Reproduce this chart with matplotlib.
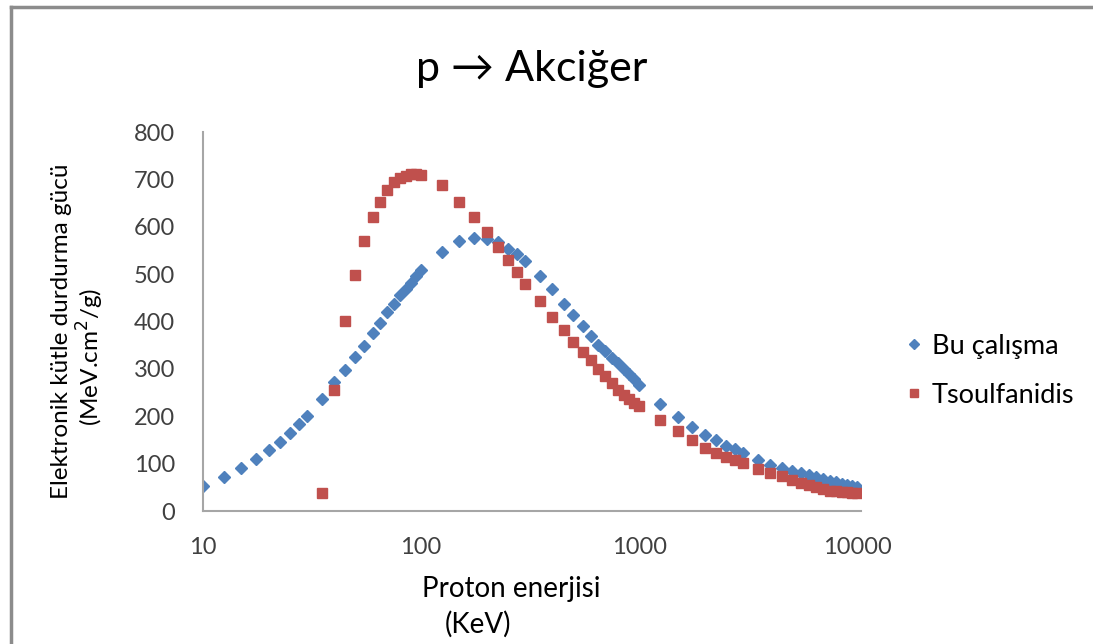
import numpy as np
import matplotlib
matplotlib.use('Agg')
import matplotlib.pyplot as plt
from matplotlib.lines import Line2D

plt.rcParams['font.family'] = ['Lato', 'DejaVu Sans']

# energy (keV) and stopping power (MeV.cm2/g)
energy_bu = [10, 12.5, 15, 17.5, 20, 22.5, 25, 27.5, 30, 35, 40, 45, 50, 55, 60, 65, 70, 75,
	80, 85, 90, 95, 100, 125, 150, 175, 200, 225, 250, 275, 300, 350, 400, 450, 500, 550,
	600, 650, 700, 750, 800, 850, 900, 950, 1000, 1250, 1500, 1750, 2000, 2250, 2500, 2750,
	3000, 3500, 4000, 4500, 5000, 5500, 6000, 6500, 7000, 7500, 8000, 8500, 9000, 9500, 10000]
sp_bu = [53, 71, 90, 109, 129, 146, 164, 184, 201, 236, 272, 298, 325, 349, 376, 397, 420, 437,
	455, 468, 482, 496, 509, 547, 570, 577, 574, 568, 554, 542, 528, 496, 468, 438, 414, 390,
	370, 351, 337, 324, 312, 300, 289, 278, 267, 226, 198, 177, 161, 149, 138, 131,
	123, 108, 98, 91, 85, 80, 75, 71, 67, 64, 61, 58, 55, 52, 50]

energy_ts = [35, 40, 45, 50, 55, 60, 65, 70, 75, 80, 85, 90, 95, 100, 125, 150, 175, 200, 225,
	250, 275, 300, 350, 400, 450, 500, 550, 600, 650, 700, 750, 800, 850, 900, 950, 1000,
	1250, 1500, 1750, 2000, 2250, 2500, 2750, 3000, 3500, 4000, 4500, 5000, 5500, 6000,
	6500, 7000, 7500, 8000, 8500, 9000, 9500, 10000]
sp_ts = [37, 256, 401, 499, 570, 620, 653, 678, 694, 702, 708, 711, 711, 710, 688, 653, 621, 588, 557,
	530, 504, 480, 443, 410, 383, 356, 335, 318, 300, 284, 270, 256, 245, 237, 229, 222,
	193, 168, 149, 134, 123, 115, 108, 101, 88, 80, 73, 66, 60, 55,
	50, 46, 43, 42, 41, 40, 39, 39]

x_ticks = [10, 100, 1000, 10000]
y_ticks = [0, 100, 200, 300, 400, 500, 600, 700, 800]

blue = '#4F81BD'
red = '#C0504D'
tick_col = '#404040'

fig = plt.figure(figsize=(10.93, 6.44), dpi=100)
ax = fig.add_axes([0.1857, 0.2065, 0.602, 0.5885])

ax.plot(energy_bu, sp_bu, linestyle='none', marker='D', ms=6, color=blue, mec=blue, label='Bu çalışma')
ax.plot(energy_ts, sp_ts, linestyle='none', marker='s', ms=7.5, color=red, mec=red, label='Tsoulfanidis')

ax.set_xscale('log')
ax.set_xlim(10, 10400)
ax.set_ylim(0, 800)
ax.set_xticks(x_ticks)
ax.set_xticklabels([str(t) for t in x_ticks])
ax.set_yticks(y_ticks)
ax.minorticks_off()
ax.tick_params(length=0, labelsize=17, labelcolor=tick_col)
ax.tick_params(axis='x', pad=19)
ax.tick_params(axis='y', pad=20)
for s in ['top', 'right']:
	ax.spines[s].set_visible(False)
for s in ['left', 'bottom']:
	ax.spines[s].set_color('#A6A6A6')
	ax.spines[s].set_linewidth(1.5)

fig.text(0.486, 0.893, 'p → Akciğer', ha='center', va='center', fontsize=31)
fig.text(0.056, 0.486, 'Elektronik kütle durdurma gücü', rotation=90, ha='center', va='center', fontsize=17.5)
fig.text(0.083, 0.446, '(MeV.cm$^2$/g)', rotation=90, ha='center', va='center', fontsize=17.5)
fig.text(0.468, 0.086, 'Proton enerjisi', ha='center', va='center', fontsize=20)
fig.text(0.437, 0.031, '(KeV)', ha='center', va='center', fontsize=20)

ax.legend(loc='center left', bbox_to_anchor=(1.025, 0.37), frameon=False, fontsize=19.5,
	handletextpad=0.2, labelspacing=0.9, handlelength=0.9, markerscale=0.85)

# chart area border (left and top edges visible)
fig.add_artist(Line2D([11/1093, 11/1093], [0, 1 - 7/644], color='#8C8C8C', lw=2.5))
fig.add_artist(Line2D([11/1093, 1], [1 - 7/644, 1 - 7/644], color='#8C8C8C', lw=2.5))

fig.savefig('out.png', dpi=100)
